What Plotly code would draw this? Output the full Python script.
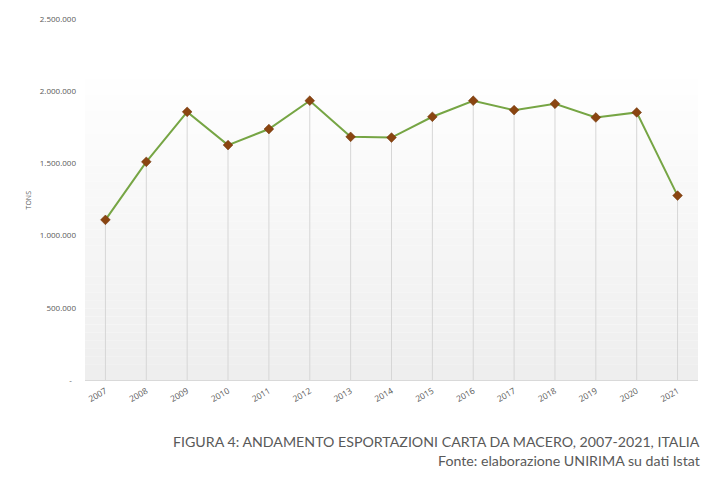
import plotly.graph_objects as go

years = [str(y) for y in range(2007, 2022)]
tons = [1109000, 1511000, 1857000, 1627000, 1738000, 1934000, 1684000, 1679000,
        1823000, 1934000, 1869000, 1913000, 1818000, 1853000, 1277000]
y_tickvals = [0, 500000, 1000000, 1500000, 2000000, 2500000]
y_ticktext = ["-  ", "500.000", "1.000.000", "1.500.000", "2.000.000", "2.500.000"]

fig = go.Figure()

fig.add_trace(go.Scatter(
    x=years, y=tons, mode="lines+markers",
    line=dict(color="#76a544", width=2),
    marker=dict(symbol="diamond", size=7.5, color="#8a4511",
                line=dict(color="#6e3308", width=0.5)),
    error_y=dict(type="data", symmetric=False, array=[0] * len(tons),
                 arrayminus=tons, color="#d6d6d6", thickness=1, width=0),
    showlegend=False, hoverinfo="x+y",
))

# gradient background bands
shapes = []
top = 0.879
n = 40
for i in range(n):
    y0 = top * i / n
    y1 = top * (i + 1) / n
    t = i / (n - 1)
    g = int(round(238 + (255 - 238) * t))
    shapes.append(dict(type="rect", xref="paper", yref="paper", x0=0, x1=1,
                       y0=y0, y1=y1, fillcolor=f"rgb({g},{g},{g})",
                       line=dict(width=0), layer="below"))

L, R, T, B = 84.5, 17.5, 19.3, 98
PW = 716 - L - R
PH = 478 - T - B

fig.update_layout(
    width=716, height=478,
    margin=dict(l=L, r=R, t=T, b=B, autoexpand=False),
    paper_bgcolor="white", plot_bgcolor="white",
    shapes=shapes,
    font=dict(family="Open Sans", color="#595959"),
    xaxis=dict(type="category", range=[-0.5, 14.5], tickangle=-30,
               tickfont=dict(size=8.5, color="#595959"), showgrid=False,
               showline=True, linecolor="#d9d9d9", linewidth=1, ticks="",
               zeroline=False, automargin=False, ticklabelstandoff=2),
    yaxis=dict(range=[0, 2500000], tickvals=y_tickvals, ticktext=y_ticktext,
               tickfont=dict(size=8, color="#595959"), showgrid=False,
               zeroline=False, showline=False, ticks="", ticklabelstandoff=8,
               automargin=False),
    annotations=[
        dict(text="TONS", xref="paper", yref="paper",
             x=(28 - L) / PW, y=(380 - 200) / PH, textangle=-90,
             xanchor="center", yanchor="middle", showarrow=False,
             font=dict(size=7, color="#595959")),
        dict(text="FIGURA 4: ANDAMENTO ESPORTAZIONI CARTA DA MACERO, 2007-2021, ITALIA",
             xref="paper", yref="paper", x=(703 - L) / PW, y=(380 - 441) / PH,
             xanchor="right", yanchor="middle", showarrow=False,
             font=dict(family="Lato", size=14.2, color="#595959")),
        dict(text="Fonte: elaborazione UNIRIMA su dati Istat",
             xref="paper", yref="paper", x=(703 - L) / PW, y=(380 - 460) / PH,
             xanchor="right", yanchor="middle", showarrow=False,
             font=dict(family="Lato", size=14.2, color="#595959")),
    ],
)

fig.write_html("out.html")
